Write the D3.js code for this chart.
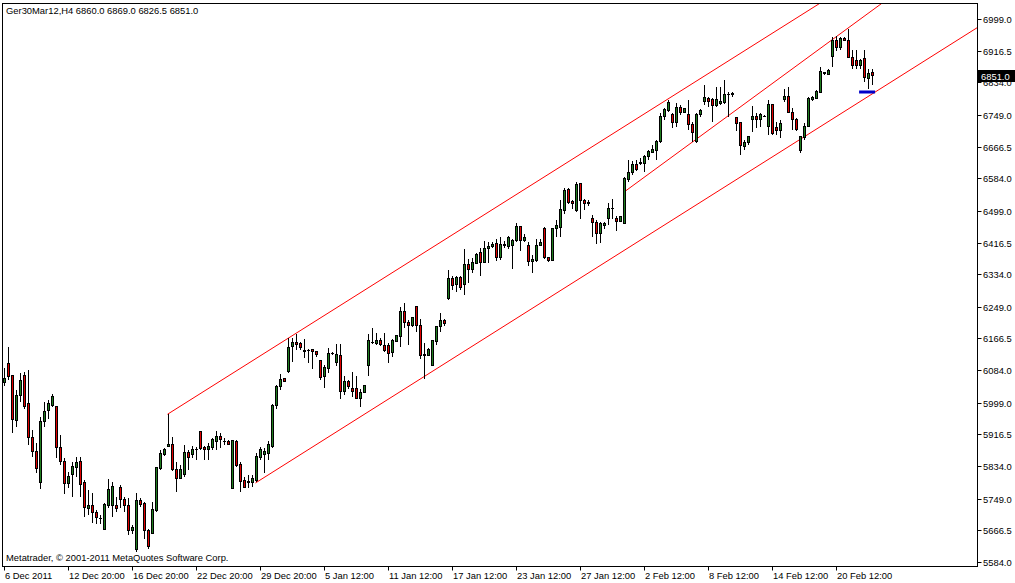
<!DOCTYPE html>
<html>
<head>
<meta charset="utf-8">
<script src="https://cdn.jsdelivr.net/npm/d3@7"></script>
<style>
  body { margin: 0; background: #fff; }
  svg { display: block; font-family: "Liberation Sans", Arial, sans-serif; font-size: 9.4px; }
</style>
</head>
<body>
<svg id="chart" width="1015" height="583"></svg>
<script>
// H4 candles, Ger30Mar12
const opens = [6051,6100,6069,5952,6017,6069,5996,5909,5873,5790,5950,5978,5991,5988,5883,5847,5789,5813,5830,5847,
  5790,5724,5732,5714,5698,5669,5732,5731,5730,5777,5747,5730,5667,5617,5744,5736,5667,5658,5719,5828,
  5865,5884,5890,5825,5802,5812,5870,5863,5878,5925,5883,5876,5883,5897,5912,5899,5899,5776,5899,5837,
  5797,5790,5790,5796,5856,5864,5867,5884,5991,6041,6061,6080,6145,6156,6154,6134,6136,6138,6133,6108,
  6067,6088,6127,6103,6123,6028,6055,6035,6036,6011,6025,6095,6156,6154,6160,6149,6149,6129,6158,6171,
  6238,6208,6199,6249,6201,6126,6123,6095,6158,6197,6214,6271,6323,6306,6326,6307,6360,6347,6362,6391,
  6365,6401,6405,6414,6378,6410,6406,6408,6421,6458,6421,6410,6366,6369,6410,6453,6378,6369,6453,6455,
  6501,6555,6523,6501,6571,6527,6520,6479,6469,6440,6460,6479,6505,6479,6472,6466,6582,6598,6620,6623,
  6623,6640,6651,6657,6679,6744,6760,6749,6729,6769,6755,6749,6725,6679,6751,6784,6792,6790,6773,6779,
  6781,6803,6803,6743,6729,6666,6676,6738,6746,6738,6746,6720,6775,6716,6708,6788,6798,6755,6736,6656,
  6691,6718,6788,6792,6807,6856,6855,6901,6943,6924,6947,6942,6899,6892,6877,6896,6845,6860];
const highs = [6089,6143,6071,6032,6076,6080,6084,5928,5895,5963,6002,6006,6023,5990,5915,5854,5819,5845,5858,5858,
  5797,5771,5763,5719,5706,5737,5799,5793,5754,5785,5754,5750,5680,5763,5750,5741,5669,5741,5832,5876,
  5880,5969,5909,5845,5837,5889,5877,5886,5884,5925,5886,5893,5906,5925,5919,5906,5902,5903,5902,5845,
  5806,5812,5810,5867,5884,5882,5900,5997,6045,6075,6062,6167,6167,6178,6158,6164,6139,6139,6134,6110,
  6097,6141,6131,6151,6152,6068,6058,6080,6068,6036,6045,6177,6194,6180,6167,6181,6155,6164,6173,6249,
  6258,6214,6223,6251,6216,6154,6141,6160,6199,6232,6216,6345,6329,6329,6329,6399,6373,6375,6390,6401,
  6420,6419,6419,6425,6432,6420,6433,6427,6468,6459,6438,6419,6384,6425,6425,6456,6379,6455,6475,6527,
  6559,6558,6527,6575,6571,6531,6527,6488,6475,6471,6471,6520,6531,6485,6485,6586,6631,6629,6631,6638,
  6644,6657,6671,6684,6753,6766,6788,6753,6781,6775,6766,6788,6731,6753,6764,6827,6797,6792,6823,6823,
  6840,6810,6810,6744,6731,6684,6694,6772,6753,6753,6749,6788,6775,6731,6736,6816,6823,6766,6742,6694,
  6727,6797,6798,6814,6875,6862,6868,6953,6955,6953,6953,6972,6918,6918,6896,6918,6870,6869];
const lows = [6043,6058,5921,5936,6002,5984,5889,5857,5815,5773,5936,5956,5987,5854,5837,5760,5776,5754,5806,5754,
  5702,5706,5686,5683,5683,5669,5724,5702,5715,5724,5715,5654,5658,5611,5728,5645,5619,5657,5715,5824,
  5860,5883,5822,5767,5799,5806,5824,5854,5850,5877,5850,5851,5877,5876,5880,5889,5889,5776,5832,5767,
  5776,5776,5780,5793,5851,5816,5851,5880,5982,6032,6052,6077,6106,6136,6136,6115,6103,6086,6119,6058,
  6038,6077,6123,6095,6009,6019,6036,6015,6010,5987,6025,6068,6151,6149,6147,6132,6103,6119,6158,6145,
  6193,6149,6197,6184,6112,6060,6121,6095,6149,6184,6199,6267,6294,6288,6294,6281,6310,6336,6360,6330,
  6362,6362,6403,6369,6371,6401,6399,6347,6419,6395,6419,6355,6336,6366,6407,6373,6366,6368,6430,6432,
  6492,6518,6505,6495,6479,6501,6512,6430,6412,6416,6453,6462,6479,6447,6471,6464,6575,6592,6604,6618,
  6601,6631,6649,6631,6675,6736,6757,6714,6718,6749,6755,6710,6679,6677,6744,6775,6769,6731,6769,6775,
  6777,6744,6797,6708,6644,6657,6670,6705,6714,6717,6744,6697,6697,6697,6688,6784,6753,6710,6708,6649,
  6684,6717,6785,6790,6805,6853,6853,6875,6916,6918,6943,6899,6870,6870,6870,6836,6816,6826.5];
const closes = [6062,6067,5956,6018,6056,5990,5909,5871,5827,5951,5977,5996,6015,5882,5846,5789,5806,5832,5843,5786,
  5725,5732,5712,5699,5698,5735,5773,5782,5724,5746,5730,5667,5675,5744,5734,5667,5625,5721,5830,5868,
  5876,5890,5825,5802,5825,5870,5857,5876,5877,5879,5877,5884,5902,5912,5902,5898,5890,5900,5836,5793,
  5777,5795,5802,5860,5876,5871,5891,5993,6042,6060,6054,6143,6156,6151,6142,6133,6135,6132,6125,6064,
  6091,6128,6128,6125,6028,6055,6041,6028,6011,6026,6045,6160,6157,6160,6151,6136,6127,6160,6173,6238,
  6207,6199,6220,6199,6121,6121,6138,6160,6197,6214,6206,6323,6304,6326,6300,6360,6347,6365,6386,6365,
  6401,6407,6412,6378,6412,6412,6430,6423,6459,6421,6429,6366,6371,6410,6417,6377,6369,6453,6462,6503,
  6553,6520,6519,6568,6527,6518,6520,6468,6440,6465,6466,6505,6506,6472,6485,6584,6599,6620,6607,6626,
  6640,6653,6659,6681,6746,6762,6782,6729,6769,6755,6766,6723,6704,6750,6760,6795,6784,6773,6790,6784,
  6803,6803,6804,6727,6670,6677,6692,6746,6737,6749,6746,6775,6701,6708,6727,6798,6755,6736,6712,6692,
  6720,6792,6795,6810,6862,6860,6866,6944,6925,6949,6944,6899,6877,6877,6892,6847,6856,6851];

// price axis and time axis labels
const priceTicks = [6999.0,6916.5,6834.0,6749.0,6666.5,6584.0,6499.0,6416.5,6334.0,6249.0,6166.5,6084.0,5999.0,5916.5,5834.0,5749.0,5666.5,5584.0];
const timeLabels = ["6 Dec 2011","12 Dec 20:00","16 Dec 20:00","22 Dec 20:00","29 Dec 20:00","5 Jan 12:00","11 Jan 12:00",
  "17 Jan 12:00","23 Jan 12:00","27 Jan 12:00","2 Feb 12:00","8 Feb 12:00","14 Feb 12:00","20 Feb 12:00"];
const timeLabelBars = [0,16,32,48,64,80,96,112,128,144,160,176,192,208];

// trend lines: [startBar, startPrice, endBar, endPrice] (0-based bars), drawn as rays
const trendUpper = [41, 5969, 197.4, 6996];
const trendLower = [63, 5790, 220.7, 6827];
const trendMiddle = [155, 6547, 219.6, 7040];
const orderLevel = [213.9, 217.9, 6809];

const symbolHeader = "Ger30Mar12,H4  6860.0 6869.0 6826.5 6851.0";
const copyright = "Metatrader, \u00a9 2001-2011 MetaQuotes Software Corp.";

const svg = d3.select("#chart");
const plot = {left: 2.5, top: 3.5, right: 977.5, bottom: 566.5};

const x = d3.scaleLinear().domain([0, 1]).range([3.5, 7.5]);
const y = d3.scaleLinear().domain([5584, 6999]).range([562, 19]);

svg.append("defs").append("clipPath").attr("id", "clip")
  .append("rect").attr("x", plot.left).attr("y", plot.top)
  .attr("width", plot.right - plot.left).attr("height", plot.bottom - plot.top);

// trend lines
const g = svg.append("g").attr("clip-path", "url(#clip)");
[trendUpper, trendLower, trendMiddle].forEach(t => {
  const [b0, p0, b1, p1] = t;
  const k = (p1 - p0) / (b1 - b0);
  const bEnd = 260;
  g.append("line")
    .attr("x1", x(b0)).attr("y1", y(p0))
    .attr("x2", x(bEnd)).attr("y2", y(p0 + k * (bEnd - b0)))
    .attr("stroke", "#ff0000").attr("stroke-width", 1);
});

// candles
const candles = g.append("g").attr("shape-rendering", "crispEdges");
opens.forEach((o, i) => {
  const c = closes[i];
  const cx = Math.round(x(i)) + 0.5;
  candles.append("line")
    .attr("x1", cx).attr("x2", cx)
    .attr("y1", y(highs[i])).attr("y2", y(lows[i]))
    .attr("stroke", "#000");
  const top = y(Math.max(o, c)), bot = y(Math.min(o, c));
  candles.append("rect")
    .attr("x", cx - 1).attr("width", 2)
    .attr("y", top).attr("height", Math.max(bot - top, 0.5))
    .attr("fill", c >= o ? "#1e7d1e" : "#e00000")
    .attr("stroke", "#000").attr("stroke-width", 1);
});

// pending order level
g.append("line")
  .attr("x1", x(orderLevel[0])).attr("x2", x(orderLevel[1]))
  .attr("y1", y(orderLevel[2])).attr("y2", y(orderLevel[2]))
  .attr("stroke", "#0000c8").attr("stroke-width", 3);

// frame
svg.append("rect")
  .attr("x", plot.left).attr("y", plot.top)
  .attr("width", plot.right - plot.left).attr("height", plot.bottom - plot.top)
  .attr("fill", "none").attr("stroke", "#000");

// right price axis
const ya = svg.append("g");
priceTicks.forEach(p => {
  const py = Math.round(y(p)) + 0.5;
  ya.append("line").attr("x1", plot.right).attr("x2", plot.right + 4)
    .attr("y1", py).attr("y2", py).attr("stroke", "#000");
  ya.append("text").attr("x", 983).attr("y", py + 3.5).text(p.toFixed(1));
});

// last price box
const lastY = Math.round(y(closes[closes.length - 1]));
svg.append("rect").attr("x", 978).attr("y", lastY - 6).attr("width", 37).attr("height", 12).attr("fill", "#000");
svg.append("text").attr("x", 981).attr("y", lastY + 4).attr("fill", "#fff")
  .text(closes[closes.length - 1].toFixed(1));

// time axis
timeLabels.forEach((t, i) => {
  const tx = Math.round(x(timeLabelBars[i])) + 0.5;
  svg.append("line").attr("x1", tx).attr("x2", tx)
    .attr("y1", plot.bottom).attr("y2", plot.bottom + 4).attr("stroke", "#000");
  svg.append("text").attr("x", tx + 0.5).attr("y", 579).text(t);
});

svg.append("text").attr("x", 6).attr("y", 14).text(symbolHeader);
svg.append("text").attr("x", 6).attr("y", 561).text(copyright);
</script>
</body>
</html>
